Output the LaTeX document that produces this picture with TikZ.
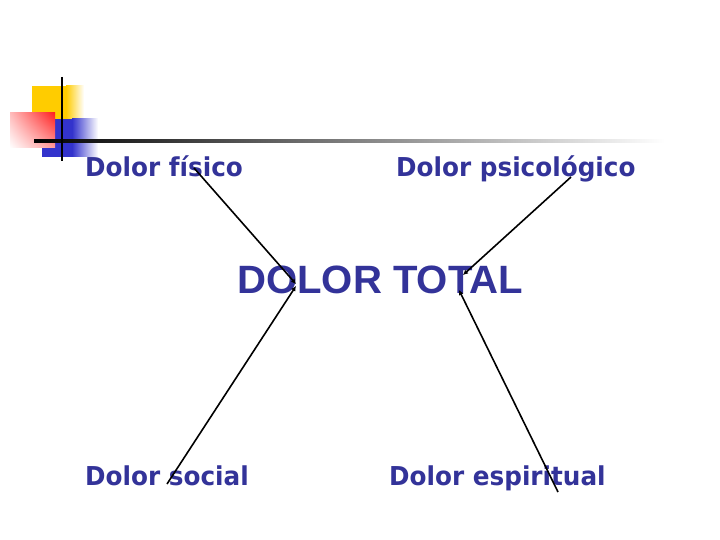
\documentclass[tikz,border=0pt]{standalone}
\usepackage{fontspec}
\setmainfont{DejaVu Sans}
\newfontfamily\titlefont{Liberation Sans}
\usetikzlibrary{arrows.meta,shadings}
\definecolor{navy}{HTML}{333399}
\definecolor{gold}{HTML}{FFCC00}
\definecolor{sqblue}{HTML}{3333CC}
\definecolor{sqred}{HTML}{FF2020}
\begin{document}
\begin{tikzpicture}[x=1pt,y=-1pt,
  lbl/.style={anchor=base west, inner sep=0pt, text=navy, font=\fontsize{26}{30}\selectfont\bfseries},
  ttl/.style={anchor=base west, inner sep=0pt, text=navy, font=\titlefont\fontsize{39.5}{44}\selectfont\bfseries},
  conn/.style={line width=1.6pt, -{Latex[length=5pt,width=5pt]}}]
\useasboundingbox[fill=white] (0,0) rectangle (720,540);
% logo
\fill[gold] (32,86) rectangle (66,120);
\shade[left color=gold, right color=white] (66,86) rectangle (84,120);
\fill[sqblue] (42,119) rectangle (72,157);
\shade[left color=sqblue, right color=white] (72,119) rectangle (98,157);
\shade[upper right=sqred, lower left=white, upper left=sqred!30!white, lower right=sqred!45!white] (10,113) rectangle (55,148);
\shade[left color=black, middle color=black!45, right color=white] (34,139.6) rectangle (665,142.4);
\draw[line width=2pt] (61.5,77) -- (61.5,161);
% texts
\node[lbl] (fis) at (85,177) {\scalebox{0.95}[1]{Dolor físico}};
\node[lbl] (psi) at (396,177) {\scalebox{0.95}[1]{Dolor psicológico}};
\node[ttl] (tot) at (237,293) {\scalebox{1.015}[1]{DOLOR TOTAL}};
\node[lbl] (soc) at (85,485) {\scalebox{0.95}[1]{Dolor social}};
\node[lbl] (esp) at (389,485) {\scalebox{0.95}[1]{Dolor espiritual}};
% connector ends
\coordinate (a1) at (194,168);
\coordinate (b1) at (296,284);
\coordinate (a2) at (571,177);
\coordinate (b2) at (463,275);
\coordinate (a3) at (167,484);
\coordinate (b3) at (296,286);
\coordinate (a4) at (558,492);
\coordinate (b4) at (459,290);
\draw[conn] (a1) -- (b1);
\draw[conn] (a2) -- (b2);
\draw[conn] (a3) -- (b3);
\draw[conn] (a4) -- (b4);
\end{tikzpicture}
\end{document}
